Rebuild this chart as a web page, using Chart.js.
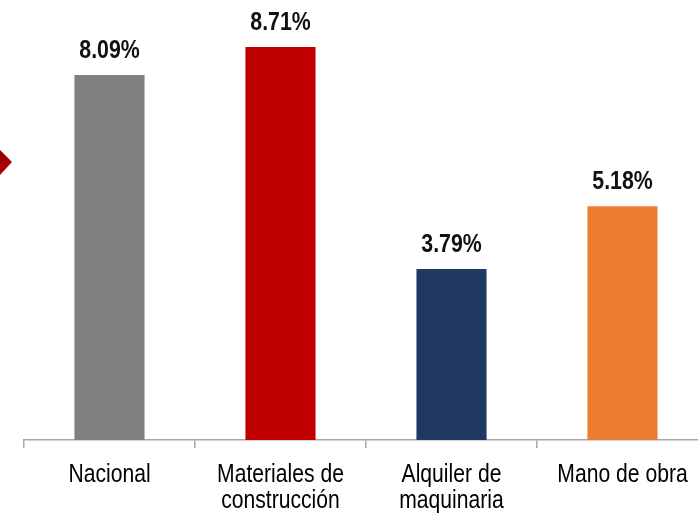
<!DOCTYPE html>
<html>
<head>
<meta charset="utf-8">
<script src="https://cdn.jsdelivr.net/npm/chart.js@4.4.0/dist/chart.umd.min.js"></script>
<style>
  html, body { margin: 0; padding: 0; background: #fff; overflow: hidden; }
  #wrap { width: 720px; height: 515px; }
</style>
</head>
<body>
<div id="wrap"><canvas id="chart" width="720" height="515"></canvas></div>
<script>
const categories = ['Nacional', ['Materiales de', 'construcción'], ['Alquiler de', 'maquinaria'], 'Mano de obra'];
const values = [8.09, 8.71, 3.79, 5.18];
const barColors = ['#808080', '#C00000', '#1F3864', '#ED7D31'];

const FONT = '"Liberation Sans", Arial, sans-serif';

// draw text squeezed horizontally (the original uses a narrow font)
function narrowText(ctx, text, x, y, squeeze) {
  ctx.save();
  ctx.translate(x, y);
  ctx.scale(squeeze, 1);
  ctx.fillText(text, 0, 0);
  ctx.restore();
}

// value labels above each bar
const valueLabels = {
  id: 'valueLabels',
  afterDatasetsDraw(chart) {
    const ctx = chart.ctx;
    const meta = chart.getDatasetMeta(0);
    ctx.save();
    ctx.font = 'bold 26px ' + FONT;
    ctx.fillStyle = '#111';
    ctx.textAlign = 'center';
    ctx.textBaseline = 'alphabetic';
    meta.data.forEach((bar, i) => {
      narrowText(ctx, values[i].toFixed(2) + '%', bar.x, bar.y - 17, 0.82);
    });
    ctx.restore();
  }
};

// category labels under the axis
const categoryLabels = {
  id: 'categoryLabels',
  afterDraw(chart) {
    const ctx = chart.ctx;
    const xs = chart.scales.x;
    ctx.save();
    ctx.font = '25px ' + FONT;
    ctx.fillStyle = '#000';
    ctx.textAlign = 'center';
    ctx.textBaseline = 'alphabetic';
    categories.forEach((lab, i) => {
      const lines = Array.isArray(lab) ? lab : [lab];
      const x = xs.getPixelForTick(i);
      lines.forEach((line, j) => {
        narrowText(ctx, line, x, xs.bottom - 33 + j * 26, 0.845);
      });
    });
    ctx.restore();
  }
};

// small red diamond sticking in from the left edge
const diamond = {
  id: 'diamond',
  afterDraw(chart) {
    const ctx = chart.ctx;
    ctx.save();
    const g = ctx.createLinearGradient(-12, 150, 12, 175);
    g.addColorStop(0, '#7a0000');
    g.addColorStop(1, '#c00000');
    ctx.fillStyle = g;
    ctx.beginPath();
    ctx.moveTo(12, 162);
    ctx.lineTo(0, 150);
    ctx.lineTo(-12, 162);
    ctx.lineTo(0, 175);
    ctx.closePath();
    ctx.fill();
    ctx.restore();
  }
};

new Chart(document.getElementById('chart'), {
  type: 'bar',
  data: {
    labels: categories,
    datasets: [{
      data: values,
      backgroundColor: barColors,
      borderWidth: 0,
      barPercentage: 0.41,
      categoryPercentage: 1
    }]
  },
  options: {
    responsive: false,
    animation: false,
    devicePixelRatio: 1,
    layout: { padding: { left: 24, right: 12, top: 0, bottom: 0 } },
    plugins: { legend: { display: false }, tooltip: { enabled: false } },
    scales: {
      y: { display: false, min: 0, max: 9.75 },
      x: {
        afterFit(scale) { scale.height = 75; },
        border: { color: '#A6A6A6', width: 1.5 },
        grid: { offset: true, drawOnChartArea: false, tickLength: 8, color: '#A6A6A6', lineWidth: 1.5 },
        ticks: { display: false }
      }
    }
  },
  plugins: [valueLabels, categoryLabels, diamond]
});
</script>
</body>
</html>
